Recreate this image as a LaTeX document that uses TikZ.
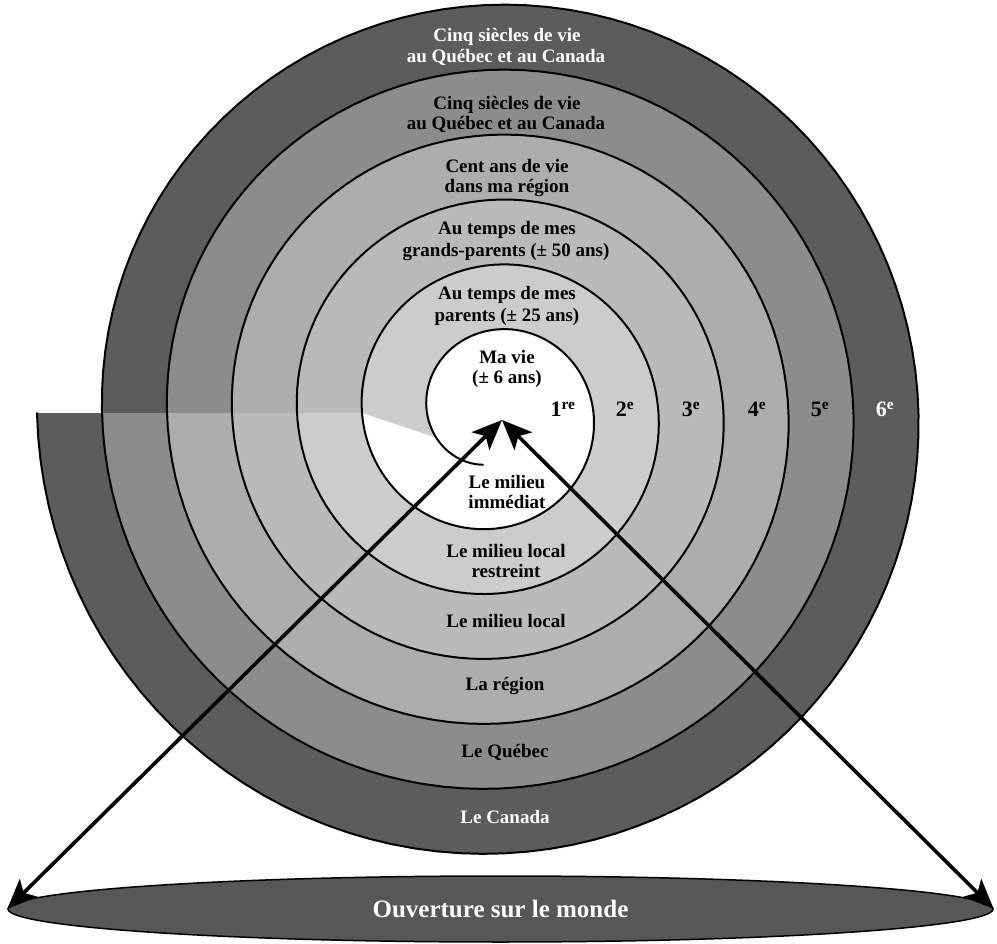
\documentclass[tikz,border=0pt]{standalone}
\usepackage{fontspec}
\setmainfont{Liberation Serif}
\usetikzlibrary{arrows.meta,shapes.geometric}
\definecolor{bandA}{gray}{0.80}
\definecolor{bandB}{gray}{0.73}
\definecolor{bandC}{gray}{0.68}
\definecolor{bandD}{gray}{0.55}
\definecolor{bandE}{gray}{0.36}
\definecolor{worldgray}{gray}{0.34}
\begin{document}
\begin{tikzpicture}[x=1pt,y=-1pt,
  lbl/.style={font=\bfseries\fontsize{19}{21}\selectfont, anchor=base, inner sep=0pt},
  wlbl/.style={lbl, text=white},
  ordlbl/.style={font=\bfseries\fontsize{22}{24}\selectfont, anchor=base, inner sep=0pt},
  wordlbl/.style={ordlbl, text=white},
  spiralline/.style={line width=2pt, line join=round, line cap=round},
  bigarrow/.style={line width=3.6pt,
    {Stealth[length=30pt,width=25pt,inset=7pt]}-{Stealth[length=30pt,width=25pt,inset=7pt]}},
  world/.style={ellipse, draw=black, line width=1.5pt, fill=worldgray, inner sep=0pt,
    minimum width=985pt, minimum height=66pt, text=white,
    font=\bfseries\fontsize{25}{27}\selectfont}]
\useasboundingbox (0,0) rectangle (997,944);
% filled discs of the spiral, outermost first
\foreach \a/\b/\col in {1800/2160/bandE,1440/1800/bandD,1080/1440/bandC,720/1080/bandB,360/720/bandA}{
  \fill[\col] plot[domain=\a:\b, samples=130, variable=\t]
    ({494-(67+\t/360*65)*cos(\t)},{413-(67+\t/360*65)*sin(\t)}) -- cycle;
}
\fill[white] plot[domain=-23:360, samples=140, variable=\t]
    ({494-(67+\t/360*65)*cos(\t)},{413-(67+\t/360*65)*sin(\t)}) -- cycle;
% spiral line
\draw[spiralline] plot[domain=-78:2160, samples=760, variable=\t]
    ({494-(67+\t/360*65)*cos(\t)},{413-(67+\t/360*65)*sin(\t)});
% ellipse
\node[world] (monde) at (500.5,909) {Ouverture sur le monde};
% arrows
\coordinate (tip) at (502,420);
\draw[bigarrow] (monde.west) -- (tip);
\draw[bigarrow] (monde.east) -- (tip);
% top labels
\node[wlbl] (c1a) at (507,42) {Cinq siècles de vie};
\node[wlbl] (c1b) at (506,63) {au Québec et au Canada};
\node[lbl] (c2a) at (507,110) {Cinq siècles de vie};
\node[lbl] (c2b) at (506,130) {au Québec et au Canada};
\node[lbl] (c3a) at (507,173) {Cent ans de vie};
\node[lbl] (c3b) at (507,193) {dans ma région};
\node[lbl] (c4a) at (507,235) {Au temps de mes};
\node[lbl] (c4b) at (506,257) {grands-parents (± 50 ans)};
\node[lbl] (c5a) at (507,300) {Au temps de mes};
\node[lbl] (c5b) at (507,322) {parents (± 25 ans)};
\node[lbl] (c6a) at (507,363) {Ma vie};
\node[lbl] (c6b) at (507,383) {(± 6 ans)};
% bottom labels
\node[lbl] (e1a) at (507,488) {Le milieu};
\node[lbl] (e1b) at (507,508) {immédiat};
\node[lbl] (e2a) at (506,557) {Le milieu local};
\node[lbl] (e2b) at (506,577) {restreint};
\node[lbl] (e3) at (506,627) {Le milieu local};
\node[lbl] (e4) at (505,690) {La région};
\node[lbl] (e5) at (505,757) {Le Québec};
\node[wlbl] (e6) at (505,823) {Le Canada};
% ordinals
\node[ordlbl] (o1) at (563,417) {1\textsuperscript{re}};
\node[ordlbl] (o2) at (625,417) {2\textsuperscript{e}};
\node[ordlbl] (o3) at (691,417) {3\textsuperscript{e}};
\node[ordlbl] (o4) at (757,417) {4\textsuperscript{e}};
\node[ordlbl] (o5) at (820,417) {5\textsuperscript{e}};
\node[wordlbl] (o6) at (885,417) {6\textsuperscript{e}};
\end{tikzpicture}
\end{document}
